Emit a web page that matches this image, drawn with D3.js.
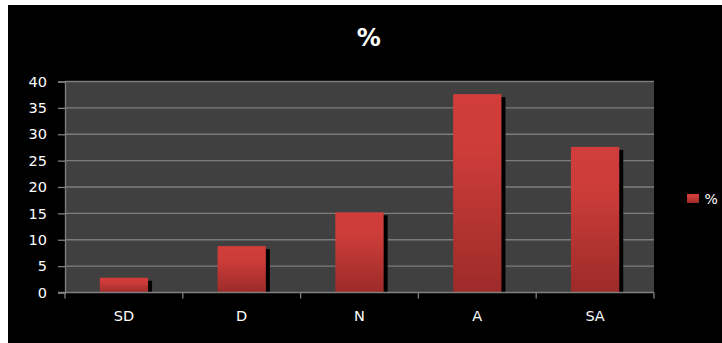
<!DOCTYPE html>
<html><head><meta charset="utf-8">
<script src="https://cdn.jsdelivr.net/npm/d3@7"></script>
<style>html,body{margin:0;padding:0;background:#fff;}svg{display:block;}</style>
</head><body><svg id="c" width="722" height="343"></svg>
<script>
const categories = ["SD","D","N","A","SA"];
const values = [2.8, 8.8, 15.2, 37.6, 27.6];
const yTicks = [0,5,10,15,20,25,30,35,40];
const seriesName = "%";
const title = "%";

const FONT = "'DejaVu Sans', Verdana, sans-serif";
const svg = d3.select("#c");
const W = 722, H = 343;
svg.append("rect").attr("x",8).attr("y",5).attr("width",W-8).attr("height",H-5).attr("fill","#000");

const m = {l:65, r:654, t:81.5, b:292.5};
const x = d3.scaleBand().domain(categories).range([m.l, m.r]).paddingInner(0.59).paddingOuter(0.295);
const y = d3.scaleLinear().domain([0,40]).range([m.b, m.t]);

const defs = svg.append("defs");
const g = defs.append("linearGradient").attr("id","bg").attr("x1",0).attr("y1",0).attr("x2",0).attr("y2",1);
g.append("stop").attr("offset","0%").attr("stop-color","#d13d3b");
g.append("stop").attr("offset","30%").attr("stop-color","#cc3c39");
g.append("stop").attr("offset","100%").attr("stop-color","#9c2b29");

svg.append("rect").attr("x",m.l).attr("y",m.t).attr("width",m.r-m.l).attr("height",m.b-m.t).attr("fill","#404040");

// gridlines
svg.append("g").selectAll("line").data(yTicks.filter(d=>d>0)).join("line")
  .attr("x1",m.l).attr("x2",m.r).attr("y1",d=>y(d)).attr("y2",d=>y(d))
  .attr("stroke","#7c7c7c").attr("stroke-width",1.3);

// y axis
const ya = svg.append("g").attr("transform",`translate(${m.l},0)`)
  .call(d3.axisLeft(y).tickValues(yTicks).tickSize(7).tickPadding(11));
ya.select(".domain").attr("stroke","#808080").attr("stroke-width",1.3);
ya.selectAll(".tick line").attr("stroke","#808080").attr("stroke-width",1.3);
ya.selectAll("text").attr("fill","#fff").style("font-family",FONT).style("font-size","14.5px");

// shadows
svg.append("g").selectAll("rect").data(values).join("rect")
  .attr("x",(d,i)=>x(categories[i])+4).attr("y",d=>y(d)+3)
  .attr("width",x.bandwidth()).attr("height",d=>m.b-y(d)-3).attr("fill","#000");
// bars
svg.append("g").selectAll("rect").data(values).join("rect")
  .attr("x",(d,i)=>x(categories[i])).attr("y",d=>y(d))
  .attr("width",x.bandwidth()).attr("height",d=>m.b-y(d)).attr("fill","url(#bg)");

// x axis
const xa = svg.append("g").attr("transform",`translate(0,${m.b})`)
  .call(d3.axisBottom(x).tickSize(0).tickPadding(18));
xa.select(".domain").remove();
svg.append("line").attr("x1",m.l-7).attr("x2",m.r).attr("y1",m.b).attr("y2",m.b).attr("stroke","#808080").attr("stroke-width",1.3);
const bounds = categories.map((c,i)=>m.l + i*(m.r-m.l)/categories.length).concat([m.r]);
svg.append("g").selectAll("line").data(bounds).join("line")
  .attr("x1",d=>d).attr("x2",d=>d).attr("y1",m.b).attr("y2",m.b+6).attr("stroke","#808080").attr("stroke-width",1.3);
xa.selectAll("text").attr("fill","#fff").style("font-family",FONT).style("font-size","14.5px");

// title
svg.append("text").attr("x",368.7).attr("y",45.7).attr("text-anchor","middle")
  .attr("fill","#fff").style("font-family",FONT).style("font-weight","bold").style("font-size","24px").text(title);

// legend
svg.append("rect").attr("x",687).attr("y",194).attr("width",12).attr("height",9).attr("fill","url(#bg)");
svg.append("text").attr("x",704.5).attr("y",203.5).attr("fill","#fff")
  .style("font-family",FONT).style("font-size","14px").text(seriesName);
</script></body></html>
